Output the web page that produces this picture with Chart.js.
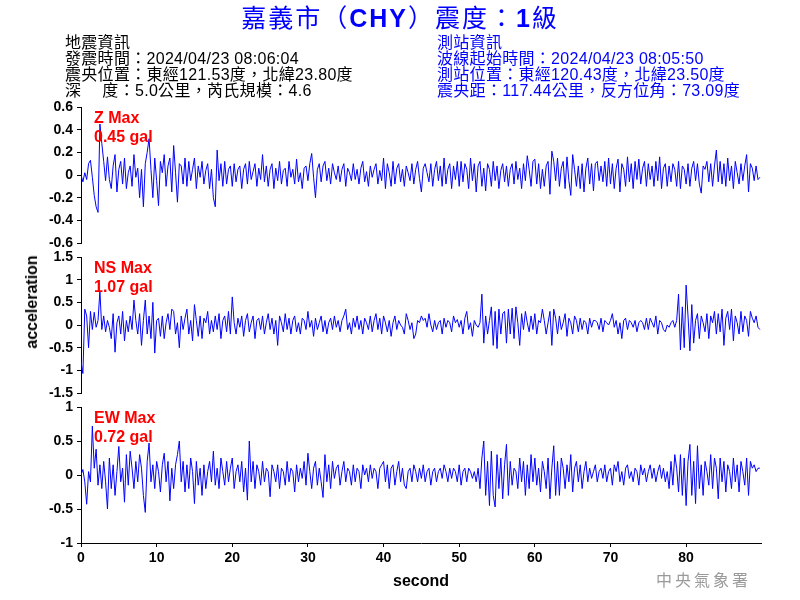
<!DOCTYPE html>
<html>
<head>
<meta charset="utf-8">
<script src="https://cdn.jsdelivr.net/npm/chart.js@4.4.1/dist/chart.umd.min.js"></script>
<style>
  html, body { margin:0; padding:0; background:#fff; }
  #wrap { position:relative; width:800px; height:600px; overflow:hidden; background:#fff; }
  canvas { position:absolute; left:0; top:0; }
  .txt { position:absolute; white-space:nowrap; font-family:"Liberation Sans","Noto Sans CJK TC",Arial,sans-serif; }
  #title { left:0; top:4px; width:800px; text-align:center; color:#0000ff; font-size:25px; line-height:28px; letter-spacing:2px; }
  #title b { font-weight:bold; }
  .info { font-size:16px; line-height:16px; letter-spacing:0.3px; }
  .red { color:#ff0000; font-size:16px; line-height:19px; font-weight:bold; }
  #ylab { left:32px; top:302px; font-size:16px; font-weight:bold; transform:translate(-50%,-50%) rotate(-90deg); }
  #wm { left:656px; top:569px; color:#9a9a9a; font-size:16px; line-height:20px; letter-spacing:3px; font-family:"Noto Sans CJK TC",serif; }
</style>
</head>
<body>
<div id="wrap">
  <canvas id="cZ" width="800" height="600"></canvas>
  <canvas id="cNS" width="800" height="600"></canvas>
  <canvas id="cEW" width="800" height="600"></canvas>
  <div class="txt" id="title">嘉義市（<b>CHY</b>）震度：<b>1</b>級</div>
  <div class="txt info" style="left:65px;top:35px;color:#000;">地震資訊<br>發震時間：2024/04/23 08:06:04<br>震央位置：東經121.53度，北緯23.80度<br>深　 度：5.0公里，芮氏規模：4.6</div>
  <div class="txt info" style="left:437px;top:35px;color:#0000ff;">測站資訊<br>波線起始時間：2024/04/23 08:05:50<br>測站位置：東經120.43度，北緯23.50度<br>震央距：117.44公里，反方位角：73.09度</div>
  <div class="txt red" style="left:94px;top:108px;">Z Max<br>0.45 gal</div>
  <div class="txt red" style="left:94px;top:258px;">NS Max<br>1.07 gal</div>
  <div class="txt red" style="left:94px;top:408px;">EW Max<br>0.72 gal</div>
  <div class="txt" id="ylab">acceleration</div>
  <div class="txt" id="wm">中央氣象署</div>
</div>
<script>
// sample interval in seconds
const DT = 0.25;

const zAcc = [
 0,-0.06,0.02,-0.04, 0.1,0.13,-0.02,-0.18, -0.28,-0.33,0.45,0.28, 0.12,-0.05,0.16,-0.04, -0.12,0.08,0.18,-0.15, 0.05,0.12,-0.08,0.15, -0.12,0.02,0.08,-0.1, 0.18,-0.02,0.06,-0.2, 0.05,-0.28,0.1,0.2, 0.32,0.05,-0.2,0.15,
 -0.05,-0.27,0.12,0.02, 0.18,-0.1,0.08,0.15, -0.15,0.26,0.02,-0.24, 0.1,0.08,-0.08,0.15, -0.1,0.12,-0.05,0.05, 0.15,-0.12,0.08,-0.02, 0.12,-0.08,0.04,0.1, -0.12,0.05,-0.2,-0.28, 0.22,-0.05,0.1,-0.1, 0.12,-0.08,0.05,0.08,
 -0.1,0.1,-0.06,0.05, 0.08,-0.12,0.05,0.1, -0.08,0.12,-0.04,0.03, 0.1,-0.1,0.06,-0.04, 0.18,-0.06,0.08,-0.1, 0.05,0.1,-0.12,0.06, -0.05,0.12,-0.08,0.04, 0.06,-0.1,0.12,-0.02, 0.05,-0.08,0.14,-0.06, 0.02,-0.12,0.06,0.08,
 -0.05,0.1,0.19,-0.02, -0.2,0.05,0.1,-0.06, 0.08,0.12,-0.05,0.06, -0.08,0.1,0.02,-0.04, 0.08,-0.06,0.05,0.1, -0.1,0.06,0.02,-0.05, 0.1,-0.04,0.05,-0.08, 0.06,0.12,-0.06,0.03, -0.1,0.08,-0.02,0.05, 0.1,-0.08,0.04,-0.05,
 0.15,-0.12,0.1,0.02, -0.1,0.12,-0.08,0.06, 0.1,-0.06,0.05,-0.1, 0.08,0.02,-0.05,0.1, -0.08,0.05,0.12,-0.03, -0.15,0.06,0.1,0.02, -0.06,0.1,-0.1,0.05, 0.12,-0.05,0.08,-0.1, 0.15,-0.08,0.05,0.1, -0.12,0.08,-0.04,0.12,
 -0.1,0.12,-0.06,0.1, 0.05,-0.12,0.15,-0.05, 0.1,-0.15,0.08,0.12, -0.1,0.06,-0.14,0.1, 0.05,-0.1,0.12,-0.05, 0.08,-0.12,0.04,0.1, -0.06,0.08,-0.1,0.05, 0.1,-0.08,0.12,-0.04, 0.06,-0.12,0.1,-0.05, 0.17,0.05,-0.1,0.12,
 0.14,-0.08,0.1,-0.12, 0.05,-0.1,0.08,0.12, -0.17,0.21,0.12,-0.05, 0.15,-0.1,0.06,0.12, -0.12,0.16,-0.05,-0.18, 0.18,0.05,-0.1,0.08, -0.12,0.1,-0.15,0.06, 0.15,-0.08,0.1,-0.14, 0.1,0.12,-0.05,0.08, -0.06,0.12,-0.1,0.15,
 -0.08,0.1,-0.12,0.06, 0.14,-0.15,0.1,0.05, -0.1,0.16,-0.06,0.1, -0.12,0.12,-0.04,0.14, -0.08,0.06,0.12,-0.1, 0.1,-0.04,0.08,-0.1, 0.12,-0.05,0.16,-0.12, 0.06,0.1,-0.1,0.08, -0.06,0.1,0.05,-0.1, 0.12,-0.12,0.08,0.05,
 -0.08,0.1,-0.1,0.06, 0.12,-0.05,0.1,-0.08, -0.16,0.08,0.05,0.12, -0.06,0.1,-0.1,0.08, 0.22,-0.06,0.12,-0.08, 0.1,-0.1,0.15,-0.05, 0.08,-0.12,0.12,0.02, -0.08,0.1,-0.05,0.08, 0.18,-0.15,0.1,0.06, -0.05,0.08,-0.04,-0.02
];

const nsAcc = [
 -0.8,-1.07,0.35,0.2, -0.5,0.3,-0.1,0.28, -0.05,0.1,0.75,-0.1, 0.2,-0.15,0.1,-0.05, -0.3,0.25,-0.6,0.05, 0.2,-0.2,0.3,-0.35, 0.1,-0.15,0.2,-0.1, 0.55,0.1,-0.2,0.25, -0.45,0.1,0.55,-0.2, 0.2,-0.3,0.5,-0.62,
 0.1,0.15,-0.25,0.2, -0.3,0.05,0.25,-0.1, 0.35,0.3,-0.2,0.05, -0.5,0.2,-0.1,0.15, 0.35,-0.2,0.1,-0.35, 0.45,0.1,-0.25,0.2, -0.3,0.15,0.05,0.3, -0.2,0.1,-0.15,0.2, -0.1,0.25,-0.3,0.1, 0.2,-0.15,0.3,-0.2,
 0.62,0.05,-0.2,0.15, -0.05,0.2,-0.25,0.1, 0.25,-0.15,0.05,0.2, -0.3,0.1,0.15,-0.1, 0.2,-0.2,0.05,0.25, -0.1,0.15,-0.2,0.1, -0.45,0.2,0.05,-0.15, 0.25,-0.1,0.15,-0.2, 0.1,0.2,-0.15,0.05, -0.2,0.15,0.1,-0.1,
 0.3,-0.05,0.1,-0.25, 0.15,-0.1,0.05,0.2, -0.15,0.1,-0.2,0.05, 0.15,-0.1,0.2,-0.05, 0.1,-0.15,0.1,0.2, 0.35,-0.1,0.05,-0.2, 0.15,-0.05,0.2,-0.1, 0.1,-0.2,0.15,0.05, -0.1,0.2,-0.15,0.1, 0.25,-0.1,0.15,-0.2,
 0.2,0.05,-0.15,0.1, -0.25,0.05,0.2,-0.1, 0.1,0.0,-0.05,-0.2, 0.25,0.1,-0.1,0.05, -0.3,-0.2,0.1,0.05, 0.2,0.1,0.15,-0.05, 0.25,0.0,-0.15,0.1, -0.1,0.05,0.1,-0.2, 0.15,-0.05,0.1,0.05, -0.15,0.2,0.05,0.12,
 -0.05,0.1,-0.2,0.15, 0.3,-0.1,0.05,-0.25, 0.1,0.0,-0.05,0.05, 0.68,-0.4,0.2,-0.2, 0.1,0.4,-0.45,0.3, -0.52,0.35,-0.2,0.25, 0.3,-0.4,0.35,-0.2, 0.37,-0.3,0.4,0.05, -0.45,0.25,-0.1,0.3, 0.05,-0.15,0.2,-0.1,
 0.25,-0.2,0.1,0.05, 0.35,0.1,-0.2,0.05, 0.3,-0.45,0.35,0.15, -0.2,0.2,-0.1,0.05, 0.25,-0.25,0.15,0.05, -0.2,0.2,0.1,-0.15, 0.15,-0.1,0.1,0.05, -0.2,0.15,-0.05,0.1, 0.1,0.05,-0.1,0.15, -0.15,0.1,0.05,0.0,
 0.1,0.25,-0.05,0.1, -0.2,0.05,-0.3,0.1, 0.15,-0.1,0.1,0.05, -0.05,0.1,-0.15,0.05, 0.1,0.05,-0.1,0.15, -0.1,0.15,0.05,-0.05, 0.2,-0.2,0.1,0.05, -0.1,-0.15,0.0,-0.05, 0.05,0.1,-0.05,0.1, 0.68,-0.55,0.4,-0.5,
 0.88,0.2,-0.57,0.45, -0.4,0.1,0.25,-0.3, 0.2,0.05,-0.15,0.25, -0.3,0.2,0.05,0.3, -0.2,0.25,-0.15,0.35, -0.45,0.15,0.3,-0.1, 0.35,-0.35,0.2,0.05, -0.2,0.3,-0.15,0.2, 0.1,-0.25,0.3,0.15, 0.05,0.2,-0.05,-0.1
];

const ewAcc = [
 0.0,0.08,-0.1,-0.43, 0.05,-0.1,0.72,0.1, 0.38,-0.15,0.15,-0.2, 0.2,-0.1,-0.5,0.25, -0.2,0.15,-0.3,0.05, 0.42,-0.1,0.1,-0.4, 0.3,-0.15,0.35,0.1, -0.2,0.2,-0.1,0.3, 0.1,-0.3,-0.55,0.2, 0.47,-0.1,0.15,-0.2,
 0.2,0.05,-0.25,0.15, 0.32,-0.1,0.2,-0.38, 0.1,-0.2,0.15,0.3, 0.5,-0.1,0.2,-0.25, 0.15,-0.2,0.25,0.05, -0.42,0.2,-0.15,0.1, -0.3,0.15,-0.2,0.05, 0.2,-0.1,0.35,-0.15, 0.1,-0.2,0.25,0.05, -0.15,0.2,-0.1,0.1,
 0.25,-0.2,0.05,0.15, -0.1,0.2,-0.25,0.1, -0.37,0.5,-0.1,0.2, -0.2,0.15,0.05,-0.15, 0.2,-0.1,0.1,0.05, -0.32,0.15,0.05,-0.1, 0.15,-0.2,0.1,0.05, -0.15,0.2,-0.1,0.1, 0.05,-0.25,0.15,-0.1, 0.1,-0.05,0.2,-0.15,
 0.32,0.05,-0.2,0.1, 0.2,-0.15,0.1,-0.1, -0.33,0.3,-0.1,0.15, -0.2,0.2,-0.05,0.1, 0.15,-0.15,0.05,0.2, -0.1,0.1,0.05,-0.15, 0.15,-0.1,0.1,0.05, -0.2,0.15,0.0,0.1, -0.1,0.15,-0.05,0.1, 0.05,-0.2,0.1,0.15,
 0.2,-0.1,0.15,-0.2, 0.1,0.15,-0.15,0.05, 0.2,-0.1,0.1,-0.15, -0.2,0.05,0.1,-0.1, 0.15,0.05,-0.1,0.1, -0.05,0.15,-0.1,0.05, 0.1,-0.15,0.05,0.1, -0.1,0.05,0.1,-0.05, 0.15,0.05,-0.1,0.1, -0.05,0.1,0.05,-0.1,
 0.15,-0.15,0.05,0.1, -0.1,0.1,0.05,-0.05, 0.05,-0.1,0.1,-0.2, 0.25,0.5,-0.3,0.2, -0.45,0.35,-0.3,-0.47, 0.3,-0.2,0.25,-0.35, 0.15,0.45,-0.3,0.2, -0.15,0.1,0.05,-0.2, 0.25,-0.1,0.2,-0.3, 0.15,-0.2,0.3,-0.1,
 0.25,-0.15,0.1,-0.25, 0.2,0.05,-0.2,0.25, -0.35,0.1,0.43,-0.3, 0.2,-0.3,0.25,0.1, -0.2,0.15,-0.1,0.3, -0.25,0.1,0.2,-0.1, 0.15,-0.2,0.05,0.2, -0.1,0.1,-0.05,0.05, 0.15,-0.1,0.05,0.1, -0.05,0.15,-0.1,0.05,
 0.1,-0.15,0.15,0.05, 0.2,-0.1,0.05,-0.15, 0.1,0.15,-0.05,0.05, -0.1,0.1,0.05,-0.15, 0.15,0.0,0.1,-0.1, 0.05,0.15,-0.05,0.1, -0.1,0.05,0.15,-0.05, 0.1,-0.1,0.05,-0.2, 0.2,-0.15,0.3,0.1, -0.25,0.3,-0.3,0.25,
 -0.45,0.2,0.45,-0.3, 0.2,-0.42,0.43,-0.2, 0.15,-0.3,0.2,0.05, -0.15,0.3,-0.2,0.25, 0.1,-0.35,0.25,-0.1, 0.2,-0.25,0.15,0.05, -0.2,0.25,-0.1,0.15, -0.25,0.2,0.05,-0.15, 0.25,-0.3,0.2,0.1, 0.15,0.05,0.1,0.1
];

const zTicks  = [-0.6, -0.4, -0.2, 0, 0.2, 0.4, 0.6];
const nsTicks = [-1.5, -1, -0.5, 0, 0.5, 1, 1.5];
const ewTicks = [-1, -0.5, 0, 0.5, 1];
const xTicks  = [0, 10, 20, 30, 40, 50, 60, 70, 80];
const X_MAX = 89.9;

const TICK_FONT = { family: "'Liberation Sans', Arial, sans-serif", size: 14, weight: 'bold' };

function toPoints(arr) {
  return arr.map((v, i) => ({ x: i * DT, y: v }));
}

function makeChart(id, values, yTicks, padTop, padBottom, showX) {
  const yMin = yTicks[0], yMax = yTicks[yTicks.length - 1];
  return new Chart(document.getElementById(id), {
    type: 'line',
    data: {
      datasets: [{
        data: toPoints(values),
        borderColor: '#0000ff',
        borderWidth: 1,
        pointRadius: 0,
        tension: 0,
        fill: false
      }]
    },
    options: {
      responsive: false,
      animation: false,
      events: [],
      layout: { padding: { left: 0, right: 39, top: padTop, bottom: padBottom } },
      plugins: { legend: { display: false }, tooltip: { enabled: false } },
      scales: {
        x: {
          type: 'linear',
          min: 0, max: X_MAX,
          display: showX,
          afterBuildTicks: s => { s.ticks = xTicks.map(v => ({ value: v })); },
          afterFit: s => { if (showX) s.height = 57; },
          grid: { drawOnChartArea: false, drawTicks: true, tickLength: 4, color: '#000' },
          border: { display: true, color: '#000', width: 1 },
          ticks: { color: '#000', font: TICK_FONT, padding: 3, maxRotation: 0, callback: v => String(v) },
          title: {
            display: true, text: 'second', color: '#000',
            font: { family: "'Liberation Sans', Arial, sans-serif", size: 16, weight: 'bold' },
            padding: { top: 0, bottom: 9 }
          }
        },
        y: {
          type: 'linear',
          min: yMin, max: yMax,
          afterBuildTicks: s => { s.ticks = yTicks.map(v => ({ value: v })); },
          afterFit: s => { s.width = 81; },
          grid: { drawOnChartArea: false, drawTicks: true, tickLength: 4, color: '#000' },
          border: { display: true, color: '#000', width: 1 },
          ticks: { color: '#000', font: TICK_FONT, padding: 4, callback: v => String(v) }
        }
      }
    }
  });
}

makeChart('cZ', zAcc, zTicks, 107, 357, false);
makeChart('cNS', nsAcc, nsTicks, 257, 207, false);
makeChart('cEW', ewAcc, ewTicks, 407, 0, true);
</script>
</body>
</html>
